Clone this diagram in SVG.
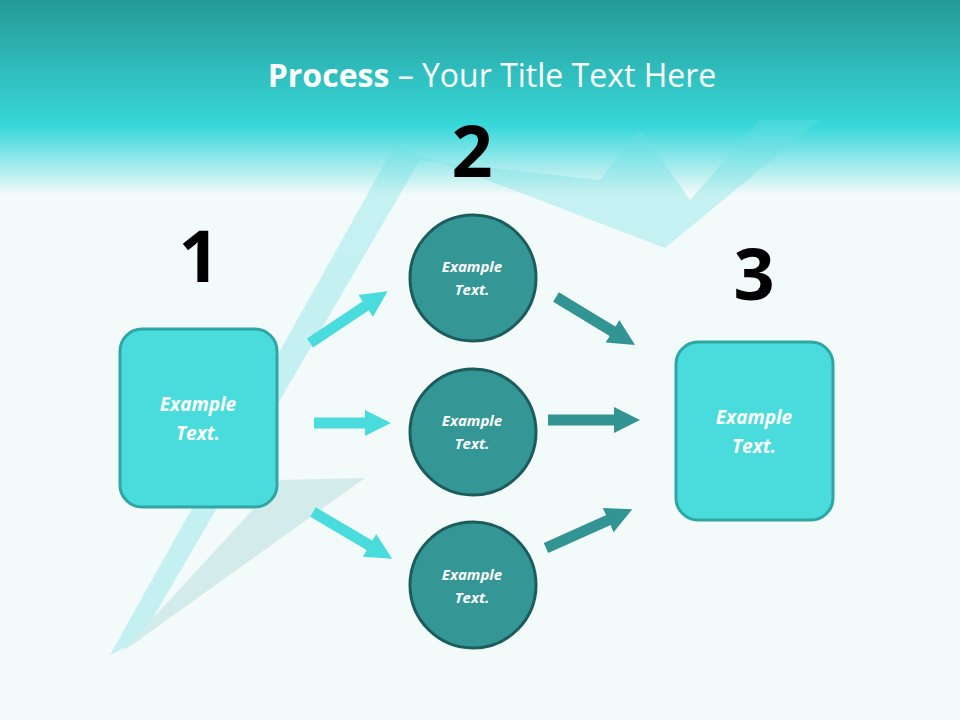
<svg xmlns="http://www.w3.org/2000/svg" width="960" height="720" viewBox="0 0 960 720">
<defs>
<linearGradient id="hdr" x1="0" y1="0" x2="0" y2="1">
<stop offset="0" stop-color="#259a97"/>
<stop offset="0.65" stop-color="#38d8da"/>
<stop offset="1" stop-color="#f3fafa"/>
</linearGradient>
<marker id="hl" viewBox="0 0 10 10" refX="2" refY="5" markerWidth="2.4" markerHeight="2.6" orient="auto"><path d="M0,0L10,5L0,10z" fill="#4adcdc"/></marker>
<marker id="hd" viewBox="0 0 10 10" refX="2" refY="5" markerWidth="2.4" markerHeight="2.6" orient="auto"><path d="M0,0L10,5L0,10z" fill="#339494"/></marker>
<style>
.box{fill:#4adcdc;stroke:#2fa5a5;stroke-width:3}
.circ{fill:#359696;stroke:#1d5c5c;stroke-width:3}
.t{font-family:"Open Sans","Liberation Sans",sans-serif;font-style:italic;font-weight:bold;fill:#fff;text-anchor:middle}
.n{font-family:"Open Sans","Liberation Sans",sans-serif;font-weight:bold;fill:#000;text-anchor:middle;font-size:72px}
.al{stroke:#4adcdc;stroke-width:11;fill:none}
.ad{stroke:#339494;stroke-width:11;fill:none}
</style>
</defs>
<rect width="960" height="720" fill="#f3fafa"/>
<rect width="960" height="195" fill="url(#hdr)"/>
<g opacity="0.35">
<path d="M110,655 L395,145 L665,248 L820,120 L760,120 L690,200 L640,130 L600,180 L420,160 L140,640z" fill="#6fe0e3"/>
<path d="M122,652 L280,480 L365,478 z" fill="#9cd0d0"/>
</g>
<text x="492" y="87" font-family="'Open Sans','Liberation Sans',sans-serif" font-size="32" fill="#fff" text-anchor="middle"><tspan font-weight="bold">Process</tspan> – Your Title Text Here</text>
<g id="connectors">
<line class="al" x1="310" y1="343" x2="370" y2="303" marker-end="url(#hl)"/>
<line class="al" x1="314" y1="423" x2="370" y2="423" marker-end="url(#hl)"/>
<line class="al" x1="313" y1="512" x2="374" y2="548" marker-end="url(#hl)"/>
<line class="ad" x1="556" y1="297" x2="617" y2="334" marker-end="url(#hd)"/>
<line class="ad" x1="548" y1="420" x2="619" y2="420" marker-end="url(#hd)"/>
<line class="ad" x1="546" y1="548" x2="613" y2="518" marker-end="url(#hd)"/>
</g>
<g id="n1"><text class="n" x="199" y="282">1</text><rect class="box" x="120" y="329" width="157" height="178" rx="22"/><text class="t" font-size="19" x="198" y="411">Example</text><text class="t" font-size="19" x="198" y="440">Text.</text></g>
<g id="n3"><text class="n" x="754" y="300">3</text><rect class="box" x="676" y="342" width="157" height="178" rx="22"/><text class="t" font-size="19" x="754" y="424">Example</text><text class="t" font-size="19" x="754" y="453">Text.</text></g>
<g id="n2"><text class="n" x="472" y="177">2</text></g>
<g id="c1"><circle class="circ" cx="473" cy="278" r="63"/><text class="t" font-size="15" x="472" y="272">Example</text><text class="t" font-size="15" x="472" y="295">Text.</text></g>
<g id="c2"><circle class="circ" cx="473" cy="432" r="63"/><text class="t" font-size="15" x="472" y="426">Example</text><text class="t" font-size="15" x="472" y="449">Text.</text></g>
<g id="c3"><circle class="circ" cx="473" cy="585" r="63"/><text class="t" font-size="15" x="472" y="580">Example</text><text class="t" font-size="15" x="472" y="603">Text.</text></g>
</svg>
